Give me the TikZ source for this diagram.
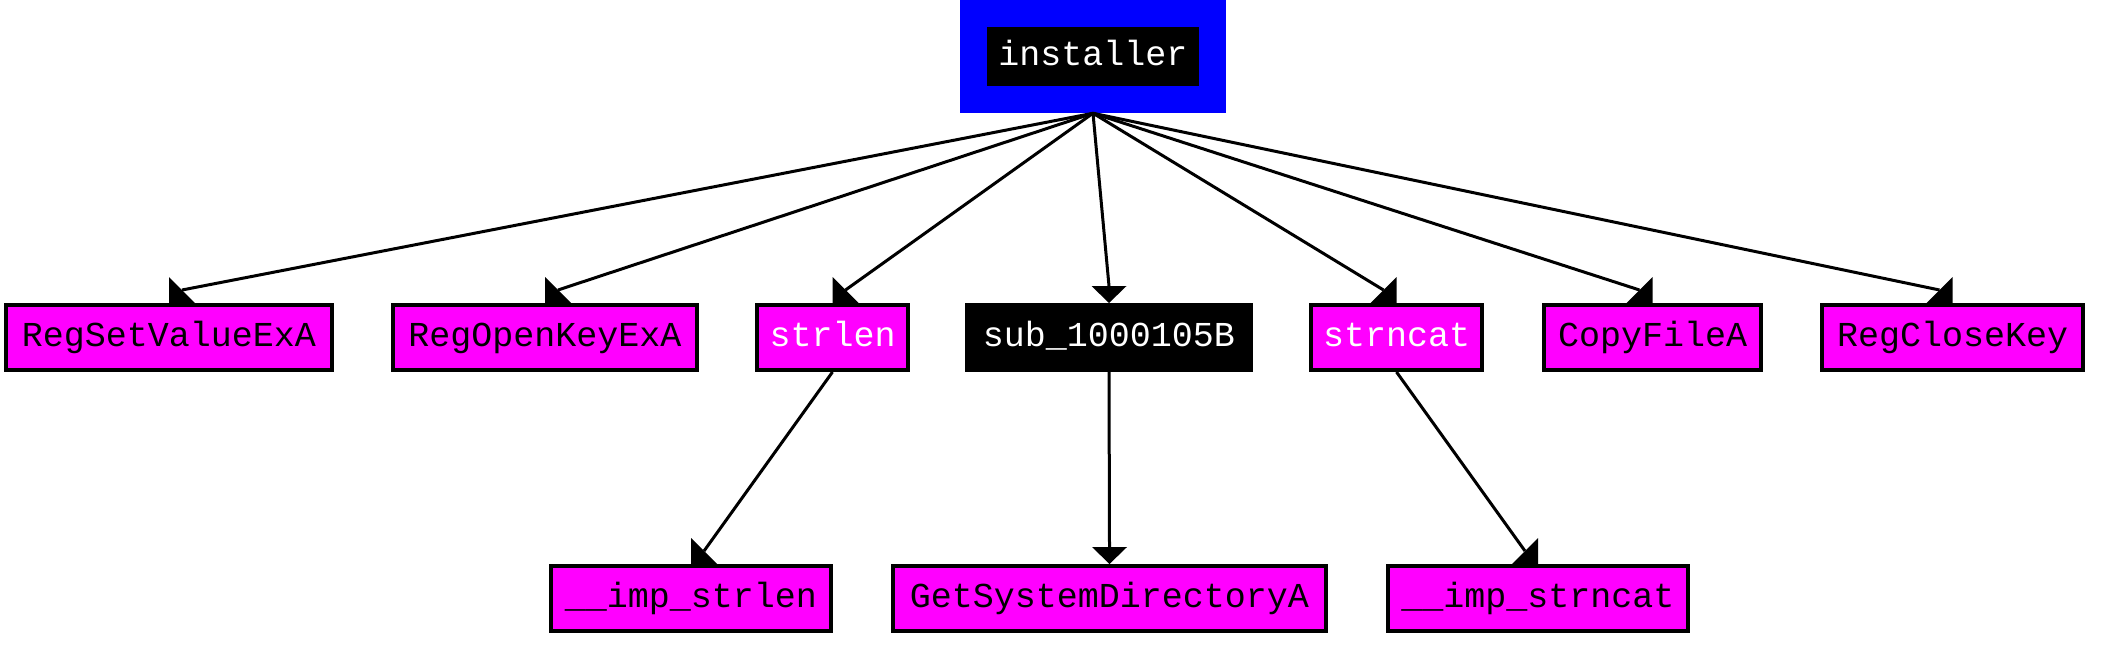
\documentclass[tikz,border=0pt]{standalone}
\usepackage{fontspec}
\setmonofont{Liberation Mono}
\usetikzlibrary{calc}
\definecolor{fnmag}{HTML}{FF00FF}
\definecolor{fnblue}{HTML}{0000FF}
\newcommand\edgeLft[2]{%
  \draw[edge] (#1) -- ($(#2.north)+(13,-13)$);
  \fill ($(#2.north)+(0,-26)$) -- (#2.north) -- ($(#2.north)+(26,0)$) -- cycle;}
\newcommand\edgeRgt[2]{%
  \draw[edge] (#1) -- ($(#2.north)+(-13,-13)$);
  \fill ($(#2.north)+(0,-26)$) -- (#2.north) -- ($(#2.north)+(-26,0)$) -- cycle;}
\newcommand\edgeDwn[2]{%
  \draw[edge] (#1) -- ($(#2.north)+(0,-17)$);
  \fill (#2.north) -- ($(#2.north)+(-17.5,-17)$) -- ($(#2.north)+(17.5,-17)$) -- cycle;}
\begin{document}
\begin{tikzpicture}[x=1pt,y=-1pt,
  lbl/.style={font=\ttfamily\fontsize{35}{35}\selectfont, text height=25pt, text depth=8pt},
  fn/.style={lbl, draw=black, line width=4pt, fill=fnmag, inner sep=0pt, outer sep=2pt, minimum height=65pt},
  fnw/.style={fn, text=white},
  subbox/.style={fn, fill=black, text=white},
  edge/.style={line width=3pt, black}]
\useasboundingbox (0,0) rectangle (2114,659);
\node[lbl, draw=fnblue, fill=black, text=white, line width=27pt, outer sep=13.5pt, inner sep=0pt,
      minimum width=239pt, minimum height=86.5pt] (installer) at (1093,56.5) {installer};
% row 1
\node[fn,  minimum width=326pt] (rsv)  at (169,337.5)    {RegSetValueExA};
\node[fn,  minimum width=304pt] (rok)  at (545,337.5)    {RegOpenKeyExA};
\node[fnw, minimum width=151pt] (slen) at (832.5,337.5)  {strlen};
\node[subbox, minimum width=284pt] (sub) at (1109,337.5) {sub\_1000105B};
\node[fnw, minimum width=171pt] (scat) at (1396.5,337.5) {strncat};
\node[fn,  minimum width=217pt] (cfa)  at (1652.5,337.5) {CopyFileA};
\node[fn,  minimum width=261pt] (rck)  at (1952.5,337.5) {RegCloseKey};
% row 2
\node[fn, minimum width=280pt] (islen) at (691,598.5)    {\_\_imp\_strlen};
\node[fn, minimum width=433pt] (gsd)   at (1109.5,598.5) {GetSystemDirectoryA};
\node[fn, minimum width=300pt] (iscat) at (1538,598.5)   {\_\_imp\_strncat};
% edges
\edgeLft{installer.south}{rsv}
\edgeLft{installer.south}{rok}
\edgeLft{installer.south}{slen}
\edgeDwn{installer.south}{sub}
\edgeRgt{installer.south}{scat}
\edgeRgt{installer.south}{cfa}
\edgeRgt{installer.south}{rck}
\edgeLft{slen.south}{islen}
\edgeDwn{sub.south}{gsd}
\edgeRgt{scat.south}{iscat}
\end{tikzpicture}
\end{document}
